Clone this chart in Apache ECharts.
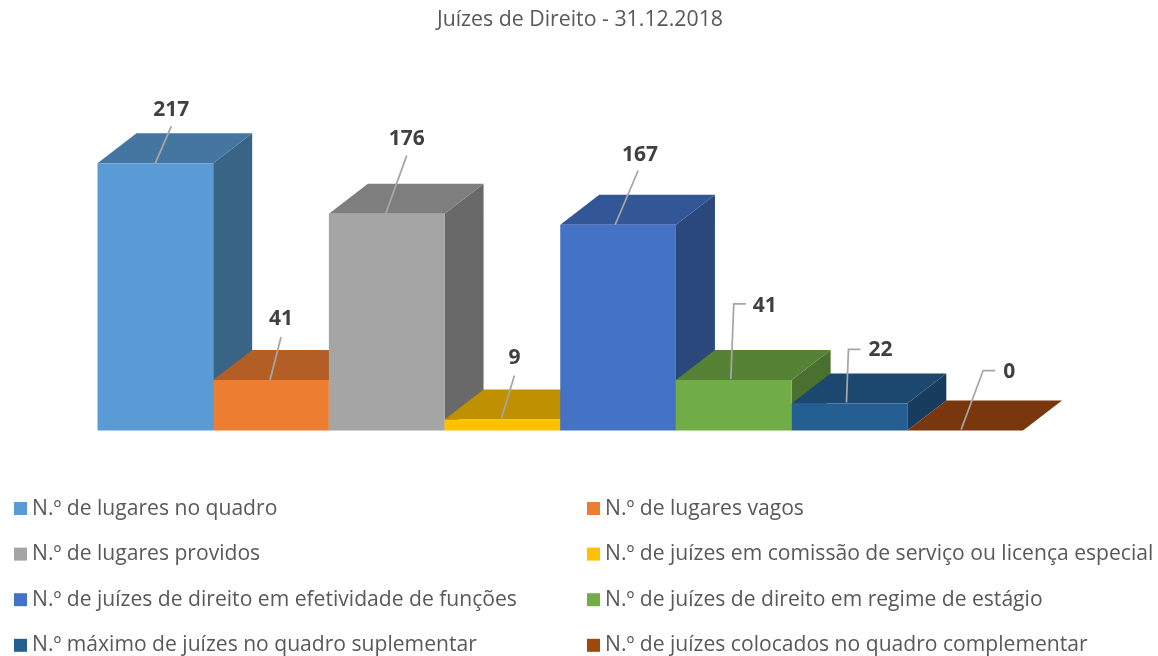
<!DOCTYPE html>
<html>
<head>
<meta charset="utf-8">
<title>Juízes de Direito</title>
<style>
  html, body { margin: 0; padding: 0; background: #fff; }
  #main { width: 1158px; height: 656px; }
</style>
<script src="https://cdn.jsdelivr.net/npm/echarts@6/dist/echarts.min.js"></script>
</head>
<body>
<div id="main"></div>
<script>
// dados
var categories = [
    'N.º de lugares no quadro',
    'N.º de lugares vagos',
    'N.º de lugares providos',
    'N.º de juízes em comissão de serviço ou licença especial',
    'N.º de juízes de direito em efetividade de funções',
    'N.º de juízes de direito em regime de estágio',
    'N.º máximo de juízes no quadro suplementar',
    'N.º de juízes colocados no quadro complementar'
];
var values = [217, 41, 176, 9, 167, 41, 22, 0];

// cores das faces
var frontColors = ['#5B9BD5', '#ED7D31', '#A5A5A5', '#FFC000', '#4472C4', '#70AD47', '#255E91', '#9E480E'];
var topColors = ['#4575A1', '#B35E24', '#7E7E7E', '#BF9000', '#335696', '#558235', '#1C476E', '#7A360D'];
var sideColors = ['#3A6486', '#A0521E', '#696969', '#A67D00', '#2B487D', '#49702E', '#173C5E', '#6A2F09'];

// linhas de chamada, relativas ao centro do topo da barra
var leaderLines = [
    [[0, 0], [16, -37]],
    [[-1, 0], [10, -43]],
    [[-1, 0], [20, -58]],
    [[-1, -1], [12, -44]],
    [[-3, 0], [20, -54]],
    [[-3, -1], [0, -76], [12, -76]],
    [[-3, -1], [-1, -54], [11, -54]],
    [[-4, -1], [18, -60], [30, -60]]
];
var labelOffsets = [
    [16, -53], [10, -61], [20, -75], [12, -61],
    [22, -70], [31, -74], [31, -53], [44, -58]
];

// profundidade do efeito 3D
var depthX = 39;
var depthY = 30;

function renderBar(params, api) {
    var i = api.value(0);
    var top = api.coord([i, api.value(1)]);
    var base = api.coord([i, 0]);
    var w = api.size([1, 0])[0];
    var l = top[0] - w / 2;
    var r = top[0] + w / 2;
    var children = [];

    function face(points, color) {
        children.push({ type: 'polygon', shape: { points: points }, style: { fill: color } });
    }
    // face lateral, topo e frente
    face([[r, top[1]], [r + depthX, top[1] - depthY], [r + depthX, base[1] - depthY], [r, base[1]]], sideColors[i]);
    face([[l, top[1]], [l + depthX, top[1] - depthY], [r + depthX, top[1] - depthY], [r, top[1]]], topColors[i]);
    face([[l, top[1]], [r, top[1]], [r, base[1]], [l, base[1]]], frontColors[i]);

    // linha de chamada
    var pts = leaderLines[i].map(function (p) {
        return [top[0] + p[0], top[1] + p[1]];
    });
    children.push({
        type: 'polyline',
        shape: { points: pts },
        style: { fill: null, stroke: '#A6A6A6', lineWidth: 1.75 }
    });
    // etiqueta
    children.push({
        type: 'text',
        style: {
            text: String(api.value(1)),
            x: top[0] + labelOffsets[i][0],
            y: top[1] + labelOffsets[i][1],
            align: 'center',
            verticalAlign: 'middle',
            fill: '#404040',
            font: 'bold 21px "Open Sans"'
        }
    });
    return { type: 'group', children: children };
}

var chart = echarts.init(document.getElementById('main'));

var seriesList = categories.map(function (name, i) {
    return {
        name: name,
        type: 'custom',
        renderItem: renderBar,
        clip: false,
        itemStyle: { color: frontColors[i] },
        encode: { x: 0, y: 1 },
        data: [[i, values[i]]]
    };
});

function legendColumn(left, names) {
    return {
        orient: 'vertical',
        left: left,
        top: 498,
        height: 200,
        padding: 0,
        icon: 'rect',
        itemWidth: 13,
        itemHeight: 13,
        itemGap: 24.6,
        selectedMode: false,
        data: names,
        textStyle: { fontFamily: 'Open Sans', fontSize: 21.1, lineHeight: 20, color: '#595959' }
    };
}

var option = {
    backgroundColor: '#fff',
    animation: false,
    title: {
        text: 'Juízes de Direito - 31.12.2018',
        left: 575,
        top: 4,
        textAlign: 'center',
        textStyle: { fontFamily: 'Open Sans', fontSize: 21.3, fontWeight: 'normal', color: '#595959' }
    },
    tooltip: { trigger: 'item', formatter: function (p) { return p.seriesName + ': ' + p.value[1]; } },
    legend: [
        legendColumn(14, categories.filter(function (c, i) { return i % 2 === 0; })),
        legendColumn(587, categories.filter(function (c, i) { return i % 2 === 1; }))
    ],
    grid: { left: 97.5, top: 122.5, width: 925.5, height: 308 },
    xAxis: { type: 'category', data: categories, show: false },
    yAxis: { type: 'value', min: 0, max: 250, show: false },
    series: seriesList
};

chart.setOption(option);
</script>
</body>
</html>
